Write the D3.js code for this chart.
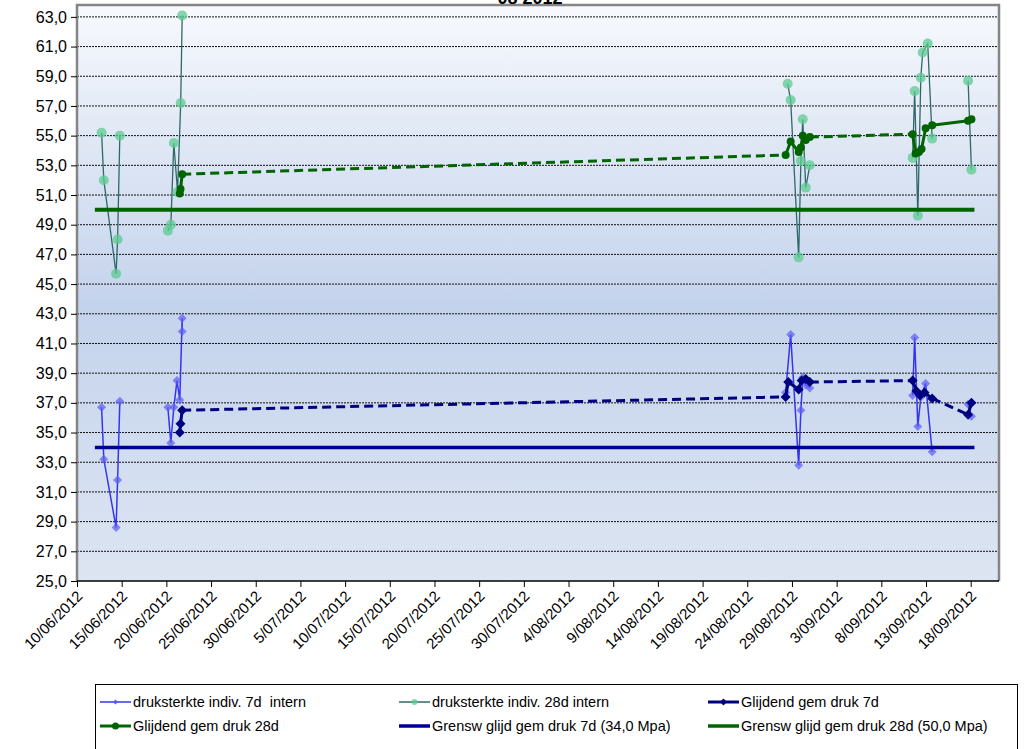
<!DOCTYPE html>
<html>
<head>
<meta charset="utf-8">
<script src="https://cdn.jsdelivr.net/npm/d3@7"></script>
<style>
  body { margin: 0; background: #fff; }
  svg { display: block; font-family: "Liberation Sans", Arial, sans-serif; }
</style>
</head>
<body>
<svg id="chart" width="1024" height="749"></svg>
<script>
// ---- data ----
// individual 7d results, null = gap between batches
var indiv7Dates = ["12/06/2012 18:00","13/06/2012 00:00","14/06/2012 09:00","14/06/2012 13:00","14/06/2012 19:00",null,
  "20/06/2012 04:00","20/06/2012 12:00","20/06/2012 20:00","21/06/2012 04:30","21/06/2012 12:00","21/06/2012 18:30","21/06/2012 18:30",null,
  "28/08/2012 07:00","28/08/2012 20:30","29/08/2012 18:00","30/08/2012 00:00","30/08/2012 05:00","30/08/2012 13:00","31/08/2012 00:00",null,
  "11/09/2012 12:00","11/09/2012 17:30","12/09/2012 02:00","12/09/2012 10:00","12/09/2012 23:00","13/09/2012 16:30",null,
  "17/09/2012 17:00","18/09/2012 02:00"];
var indiv7Values = [36.7,33.2,28.6,31.8,37.1,null,
  36.7,34.3,36.7,38.5,37.2,42.7,41.8,null,
  37.7,41.6,32.8,36.5,38.7,38.2,38.0,null,
  37.5,41.4,35.4,37.4,38.3,33.7,null,
  36.9,36.1];

var indiv28Dates = ["12/06/2012 18:00","13/06/2012 00:00","14/06/2012 09:00","14/06/2012 13:00","14/06/2012 19:00",null,
  "20/06/2012 04:00","20/06/2012 12:00","20/06/2012 20:00","21/06/2012 06:00","21/06/2012 14:30","21/06/2012 18:30",null,
  "28/08/2012 12:30","28/08/2012 20:30","29/08/2012 18:00","30/08/2012 00:00","30/08/2012 05:00","30/08/2012 13:00","31/08/2012 00:00",null,
  "11/09/2012 12:00","11/09/2012 17:30","12/09/2012 02:00","12/09/2012 10:00","12/09/2012 15:00","13/09/2012 04:30","13/09/2012 16:30",null,
  "17/09/2012 17:00","18/09/2012 02:00"];
var indiv28Values = [55.2,52.0,45.7,48.0,55.0,null,
  48.6,49.0,54.5,51.2,57.2,63.1,null,
  58.5,57.4,46.8,53.3,56.1,51.5,53.0,null,
  53.5,58.0,49.6,58.9,60.6,61.2,54.8,null,
  58.7,52.7];

// sliding averages
var gem7Dates = ["21/06/2012 12:00","21/06/2012 14:00","21/06/2012 18:30",
  "28/08/2012 07:00","28/08/2012 14:00","29/08/2012 18:00","30/08/2012 02:00","30/08/2012 13:00","31/08/2012 00:00",
  "11/09/2012 12:00","11/09/2012 22:00","12/09/2012 08:00","12/09/2012 20:00","13/09/2012 16:30",
  "17/09/2012 17:00","18/09/2012 02:00"];
var gem7Values = [35.0,35.6,36.5, 37.4,38.4,37.9,38.5,38.6,38.4, 38.5,37.8,37.5,37.7,37.3, 36.2,37.0];
var gem7Dashed = [3, 9, 14];   // segment ending at this index is dashed

var gem28Dates = ["21/06/2012 12:00","21/06/2012 14:00","21/06/2012 18:30",
  "28/08/2012 07:00","28/08/2012 20:30","29/08/2012 18:00","30/08/2012 00:00","30/08/2012 05:00","30/08/2012 13:00","31/08/2012 00:00",
  "11/09/2012 12:00","11/09/2012 20:00","12/09/2012 05:00","12/09/2012 12:00","12/09/2012 23:00","13/09/2012 16:30",
  "17/09/2012 17:00","18/09/2012 02:00"];
var gem28Values = [51.1,51.4,52.4, 53.7,54.6,53.9,54.2,55.0,54.7,54.9, 55.1,53.8,53.9,54.1,55.5,55.7, 56.0,56.1];
var gem28Dashed = [3, 10];

// limit lines
var limitDates = ["12/06/2012 00:00","18/09/2012 10:00"];
var limit7 = [34.0, 34.0];
var limit28 = [50.0, 50.0];

var yTicks = d3.range(25, 64, 2);
var xStart = "10/06/2012 00:00", xEnd = "21/09/2012 04:00";

var legendItems = [
  {label: "druksterkte indiv. 7d  intern", key: "indiv7"},
  {label: "druksterkte indiv. 28d intern", key: "indiv28"},
  {label: "Glijdend gem druk 7d", key: "gem7"},
  {label: "Glijdend gem druk 28d", key: "gem28"},
  {label: "Grensw glijd gem druk 7d (34,0 Mpa)", key: "lim7"},
  {label: "Grensw glijd gem druk 28d (50,0 Mpa)", key: "lim28"}
];

// ---- styles ----
var styles = {
  indiv7: {stroke: "#3535f0", width: 1.5, marker: "diamond", fill: "#5c5cf2", r: 4.5, op: 0.7},
  indiv28: {stroke: "#2f6868", width: 1.3, marker: "circle", fill: "#5ccb92", r: 5, op: 0.75},
  gem7: {stroke: "#000080", width: 3, marker: "diamond", fill: "#000080", r: 5, op: 1},
  gem28: {stroke: "#006400", width: 3, marker: "circle", fill: "#006400", r: 4, op: 1},
  lim7: {stroke: "#000090", width: 3.5},
  lim28: {stroke: "#006400", width: 4}
};

var parse = d3.timeParse("%d/%m/%Y %H:%M");
var svg = d3.select("#chart");
var mLeft = 77, mTop = 5, mRight = 999, mBottom = 581;

var x = d3.scaleTime().domain([parse(xStart), parse(xEnd)]).range([mLeft, mRight]);
var y = d3.scaleLinear().domain([25, 63.8]).range([mBottom, mTop]);

// background gradient
var defs = svg.append("defs");
var grad = defs.append("linearGradient").attr("id", "bg").attr("x1", 0).attr("x2", 0).attr("y1", 0).attr("y2", 1);
grad.append("stop").attr("offset", "0%").attr("stop-color", "#f7f9fd");
grad.append("stop").attr("offset", "52%").attr("stop-color", "#c4d3ec");
grad.append("stop").attr("offset", "100%").attr("stop-color", "#dde5f2");

svg.append("rect").attr("x", mLeft).attr("y", mTop).attr("width", mRight - mLeft).attr("height", mBottom - mTop)
  .attr("fill", "url(#bg)");

// grid
svg.append("g").selectAll("line").data(yTicks.slice(1)).join("line")
  .attr("x1", mLeft).attr("x2", mRight)
  .attr("y1", d => y(d)).attr("y2", d => y(d))
  .attr("stroke", "#111").attr("stroke-width", 1).attr("stroke-dasharray", "2,1");

// plot border (top/left/right)
svg.append("path")
  .attr("d", `M${mLeft},${mBottom} V${mTop} H${mRight} V${mBottom}`)
  .attr("fill", "none").attr("stroke", "#858585").attr("stroke-width", 2.5);

// axes
var yAxis = d3.axisLeft(y).tickValues(yTicks).tickSizeInner(6).tickSizeOuter(0)
  .tickFormat(d => d3.format(".1f")(d).replace(".", ","));
var gy = svg.append("g").attr("transform", `translate(${mLeft},0)`).call(yAxis);
gy.select(".domain").remove();
gy.selectAll("line").attr("stroke", "#000");
gy.selectAll("text").attr("font-size", 16).attr("fill", "#000").attr("x", -10);

var xTicks = d3.timeDay.every(1).range(parse("10/06/2012 00:00"), parse("19/09/2012 00:00")).filter((d, i) => i % 5 === 0);
var xAxis = d3.axisBottom(x).tickValues(xTicks).tickSizeInner(6).tickSizeOuter(0)
  .tickFormat(d3.timeFormat("%-d/%m/%Y"));
var gx = svg.append("g").attr("transform", `translate(0,${mBottom})`).call(xAxis);
gx.select(".domain").attr("stroke", "#000").attr("stroke-width", 1.5).attr("d", `M${mLeft},0H${mRight}`);
gx.selectAll("line").attr("stroke", "#000");
gx.selectAll("text").attr("font-size", 15).attr("fill", "#000")
  .attr("text-anchor", "end").attr("dy", 0).attr("y", 0)
  .attr("transform", "translate(6,16) rotate(-45)");

// title (cut off at the top)
svg.append("text").attr("x", 530).attr("y", 4).attr("text-anchor", "middle")
  .attr("font-size", 18).attr("font-weight", "bold").text("08 2012");

// ---- series ----
function pts(dates, values) {
  return dates.map((d, i) => d === null ? null : {t: parse(d), v: values[i]});
}
var line = d3.line().defined(d => d !== null).x(d => x(d.t)).y(d => y(d.v));

function marker(g, data, st) {
  var m = data.filter(d => d !== null);
  if (st.marker === "circle") {
    g.selectAll("circle").data(m).join("circle")
      .attr("cx", d => x(d.t)).attr("cy", d => y(d.v)).attr("r", st.r)
      .attr("fill", st.fill).attr("fill-opacity", st.op);
  } else {
    g.selectAll("path.mk").data(m).join("path").attr("class", "mk")
      .attr("d", d => `M${x(d.t)},${y(d.v) - st.r}L${x(d.t) + st.r},${y(d.v)}L${x(d.t)},${y(d.v) + st.r}L${x(d.t) - st.r},${y(d.v)}Z`)
      .attr("fill", st.fill).attr("fill-opacity", st.op);
  }
}

function drawIndiv(dates, values, st) {
  var data = pts(dates, values);
  var g = svg.append("g");
  g.append("path").attr("d", line(data)).attr("fill", "none")
    .attr("stroke", st.stroke).attr("stroke-width", st.width);
  marker(g, data, st);
}

function drawGem(dates, values, dashed, st) {
  var data = pts(dates, values);
  var g = svg.append("g");
  for (var i = 1; i < data.length; i++) {
    g.append("path").attr("d", line([data[i - 1], data[i]])).attr("fill", "none")
      .attr("stroke", st.stroke).attr("stroke-width", st.width)
      .attr("stroke-dasharray", dashed.includes(i) ? "9,5" : null);
  }
  marker(g, data, st);
}

drawIndiv(indiv7Dates, indiv7Values, styles.indiv7);
drawIndiv(indiv28Dates, indiv28Values, styles.indiv28);
drawGem(gem7Dates, gem7Values, gem7Dashed, styles.gem7);
drawGem(gem28Dates, gem28Values, gem28Dashed, styles.gem28);

[[limit7, styles.lim7], [limit28, styles.lim28]].forEach(function(p) {
  svg.append("path").attr("d", line(pts(limitDates, p[0]))).attr("fill", "none")
    .attr("stroke", p[1].stroke).attr("stroke-width", p[1].width);
});

// ---- legend ----
var lg = svg.append("g");
lg.append("rect").attr("x", 95.5).attr("y", 684.5).attr("width", 922).attr("height", 80)
  .attr("fill", "#fff").attr("stroke", "#000").attr("stroke-width", 1);
var colX = [100, 399, 708], rowY = [702, 726];
legendItems.forEach(function(it, i) {
  var st = styles[it.key];
  var lx = colX[i % 3], ly = rowY[Math.floor(i / 3)];
  var g = lg.append("g");
  var lw = it.key.startsWith("indiv") ? 1.5 : (it.key.startsWith("gem") ? 3 : 3.5);
  g.append("line").attr("x1", lx).attr("x2", lx + 31).attr("y1", ly).attr("y2", ly)
    .attr("stroke", st.stroke).attr("stroke-width", lw);
  if (st.marker === "circle") {
    g.append("circle").attr("cx", lx + 15.5).attr("cy", ly).attr("r", it.key === "indiv28" ? 3 : 3.5)
      .attr("fill", st.fill).attr("fill-opacity", st.op);
  } else if (st.marker) {
    var r = it.key === "indiv7" ? 2.5 : 3.5;
    g.append("path").attr("d", `M${lx + 15.5},${ly - r}l${r},${r}l${-r},${r}l${-r},${-r}Z`).attr("fill", st.fill);
  }
  g.append("text").attr("x", lx + 33).attr("y", ly).attr("dy", "0.35em")
    .attr("font-size", 14.5).attr("fill", "#000").style("white-space", "pre").text(it.label);
});
</script>
</body>
</html>
